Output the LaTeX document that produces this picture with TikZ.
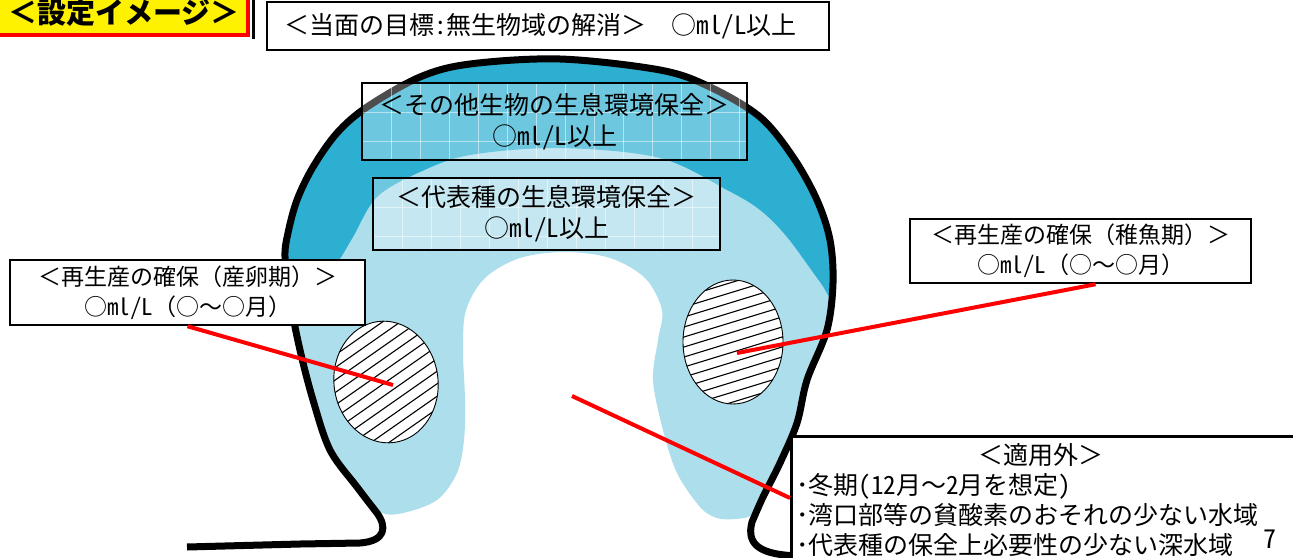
\documentclass[tikz,border=0pt]{standalone}
\usepackage{fontspec}
\setmainfont{Noto Sans CJK JP}
\newfontfamily\hwfont{Noto Sans CJK JP}[RawFeature=+hwid]
\newcommand\hwt[1]{{\hwfont #1}}
\usetikzlibrary{shapes.geometric,calc}
\definecolor{seadeep}{HTML}{2DAFD2}
\definecolor{sealight}{HTML}{ADDEEB}

\begin{document}
\begin{tikzpicture}[x=1pt,y=-1pt,
  box/.style={draw=black, line width=2.5, fill=white, inner sep=0pt, align=center},
  glassbox/.style={draw=black, line width=2.5, fill=white, fill opacity=0.3, text opacity=1,
    inner sep=0pt, align=center,
    path picture={
      \foreach \g in {0,29,...,420}
        \draw[white, line width=0.8, draw opacity=0.5]
          ($(path picture bounding box.north west)+(\g,0)$) -- ++(0,90);
      \foreach \g in {0,29,...,90}
        \draw[white, line width=0.8, draw opacity=0.5]
          ($(path picture bounding box.north west)+(0,\g)$) -- ++(420,0);
    }},
  hatch/.style 2 args={ellipse, draw=black, line width=0.9, fill=white, inner sep=0pt,
    path picture={
      \foreach \k in {-11,...,11}
        \draw[line width=1.1]
          ($(path picture bounding box.center)+(-75,{\k*#2+75*tan(#1)})$) -- ++(150,{-150*tan(#1)});
    }},
  leader/.style={draw=red, line width=4},
  label/.style={inner sep=0pt},
  sidefont/.style={font=\fontsize{23}{30}\selectfont},
  midfont/.style={font=\fontsize{25}{31}\selectfont},
  listfont/.style={font=\fontsize{25}{30}\selectfont}
]
\useasboundingbox (0,0) rectangle (1293,557);
\clip (0,0) rectangle (1293,557);
\fill[white] (0,0) rectangle (1293,557);

% light water body of the bay
\fill[sealight] plot[smooth cycle, tension=0.55] coordinates {
  (380,512) (357,487) (330,450) (313,400) (300,350) (290,300) (285,257) (288,233)
  (297,200) (313,167) (337,133) (367,107) (420,77) (470,64) (560,59) (660,70)
  (710,87) (760,117) (793,157) (817,200) (830,240) (833,283) (827,330) (807,380)
  (797,423) (780,463) (763,497) (752,515) (735,519) (717,518) (700,507) (677,473)
  (663,430) (653,380) (658,340) (662,310) (645,278) (610,258) (565,252) (520,258)
  (485,278) (466,310) (463,350) (465,400) (464,440) (457,473) (437,500) (403,513)};

% deeper band along the head of the bay
\fill[seadeep] plot[smooth cycle, tension=0.55] coordinates {
  (292,308) (287,270) (288,233) (297,200) (313,167) (337,133) (367,107) (420,77)
  (470,64) (560,59) (660,70) (710,87) (760,117) (793,157) (817,200) (830,240)
  (833,298) (820,282) (787,237) (760,210) (727,190) (660,158) (560,148) (470,155)
  (420,172) (377,197) (353,237) (337,263) (312,292)};

% coastline
\draw[line width=7, line join=round]
  (187,547) -- (300,544) -- (360,543) .. controls (386,541) and (387,527) .. (377,513)
  -- plot[smooth, tension=0.55] coordinates {
  (377,513) (357,487) (330,450) (313,400) (300,350) (290,300) (285,257) (288,233)
  (297,200) (313,167) (337,133) (367,107) (420,77) (470,64) (560,59) (660,70)
  (710,87) (760,117) (793,157) (817,200) (830,240) (833,283) (827,330) (807,380)
  (797,423) (780,463) (763,497) (752,522)}
  .. controls (746,545) and (760,555) .. (800,556);

% spawning and nursery areas
\node[hatch={27}{11.5}, minimum width=104, minimum height=122, rotate=8] (ellL) at (386,382) {};
\node[hatch={17}{10}, minimum width=100, minimum height=124] (ellR) at (733,342) {};

% title tag
\node[fill=yellow, draw=red, line width=4, inner sep=0pt, minimum width=258, minimum height=45,
  font=\fontsize{29}{29}\selectfont\bfseries] (title) at (119,12.5) {\hspace*{10pt}＜設定イメージ＞};
\draw[line width=3] ($(title.north east)+(3.5,0)$) -- ($(title.south east)+(3.5,2)$);

% target boxes
\node[box, minimum width=562, minimum height=48, font=\fontsize{25}{30}\selectfont] (goal) at (548,26)
  {\makebox[528pt][l]{＜当面の目標\hwt{:}無生物域の解消＞　○\hwt{ml/L}以上}};
\node[glassbox, midfont, minimum width=385, minimum height=77] (other) at (554.5,121.5)
  {＜その他生物の生息環境保全＞\\○\hwt{ml/L}以上};
\node[glassbox, midfont, minimum width=347, minimum height=72] (rep) at (546.5,214)
  {＜代表種の生息環境保全＞\\○\hwt{ml/L}以上};
\node[box, sidefont, minimum width=355, minimum height=65] (boxL) at (187.5,292.5)
  {＜再生産の確保（産卵期）＞\\○\hwt{ml/L}（○～○月）};
\node[box, sidefont, minimum width=341, minimum height=64] (boxR) at (1080.5,251)
  {＜再生産の確保（稚魚期）＞\\○\hwt{ml/L}（○～○月）};
\node[box, minimum width=515, minimum height=140, anchor=north west] (box3) at (790,435) {};

% leaders
\coordinate (ptL) at (393,385);
\coordinate (ptR) at (737,353);
\coordinate (ptX) at (572,396);
\draw[leader] (boxL.south) -- (ptL);
\draw[leader] ($(boxR.south)+(15,0)$) -- (ptR);
\draw[leader] (ptX) -- ($(box3.north west)+(0,63)$);

% exclusions list
\node[label, listfont] (exh) at (1041,455) {＜適用外＞};
\node[label, listfont, anchor=west] (ex1) at (796,486) {･冬期\hwt{(12}月～\hwt{2}月を想定\hwt{)}};
\node[label, listfont, anchor=west] (ex2) at (796,515) {･湾口部等の貧酸素のおそれの少ない水域};
\node[label, listfont, anchor=west] (ex3) at (796,545) {･代表種の保全上必要性の少ない深水域};
\node[label, font=\fontsize{26}{26}\selectfont] (pg) at (1270,539) {\hwt{7}};
\end{tikzpicture}
\end{document}
